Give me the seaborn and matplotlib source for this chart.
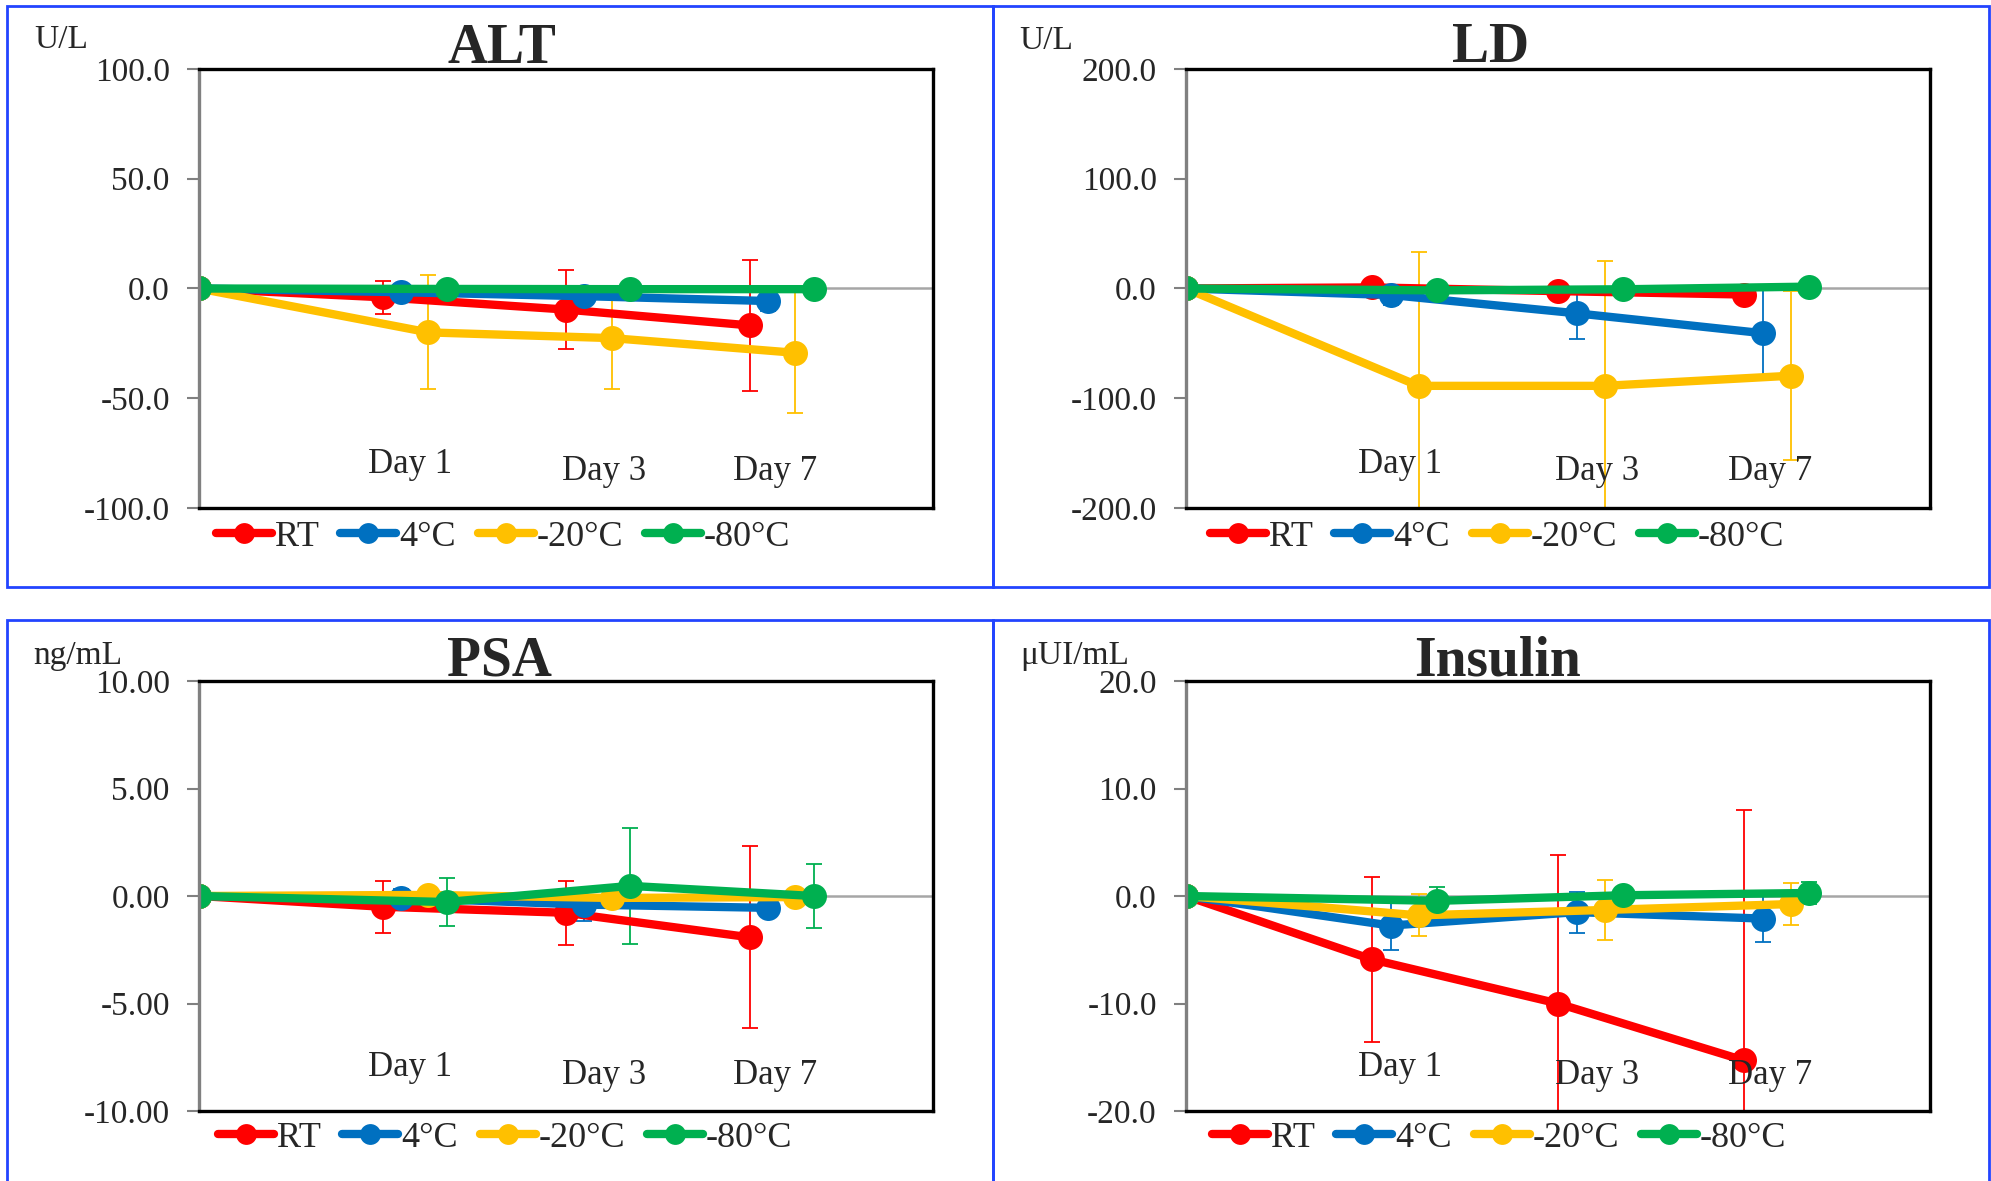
import pandas as pd
import matplotlib.pyplot as plt
import seaborn as sns
from matplotlib.lines import Line2D
from matplotlib.patches import Rectangle
from matplotlib.transforms import blended_transform_factory

sns.set_style("white")
plt.rcParams["font.family"] = ["Liberation Serif", "DejaVu Serif"]
plt.rcParams["axes.unicode_minus"] = False

# categories
days = [0, 1, 2, 3]
day_labels = ["Day 1", "Day 3", "Day 7"]
series_names = ["RT", "4°C", "-20°C", "-80°C"]
colors = ["#FF0000", "#0070C0", "#FFC000", "#00B050"]

# ALT (U/L)
alt_rt = [0, -4.0, -9.6, -16.8]
alt_rt_sd = [0, 7.5, 18.0, 29.9]
alt_4c = [0, -1.7, -3.5, -5.7]
alt_4c_sd = [0, 2.0, 2.0, 4.7]
alt_m20 = [0, -20.0, -22.6, -29.3]
alt_m20_sd = [0, 26.0, 23.2, 27.5]
alt_m80 = [0, -0.2, -0.3, -0.3]
alt_m80_sd = [0, 1.0, 1.0, 1.0]

# LD (U/L)
ld_rt = [0, 1.0, -2.4, -5.5]
ld_rt_sd = [0, 3.0, 3.0, 3.0]
ld_4c = [0, -5.9, -22.6, -40.7]
ld_4c_sd = [0, 8.7, 23.0, 42.8]
ld_m20 = [0, -88.7, -88.7, -79.5]
ld_m20_sd = [0, 122.4, 114.0, 77.0]
ld_m80 = [0, -1.7, -0.7, 1.7]
ld_m80_sd = [0, 2.0, 2.0, 2.0]

# PSA (ng/mL)
psa_rt = [0, -0.50, -0.78, -1.92]
psa_rt_sd = [0, 1.21, 1.50, 4.23]
psa_4c = [0, -0.09, -0.40, -0.55]
psa_4c_sd = [0, 0.40, 0.75, 0.15]
psa_m20 = [0, 0.05, -0.09, -0.05]
psa_m20_sd = [0, 0.15, 0.15, 0.15]
psa_m80 = [0, -0.28, 0.47, 0.0]
psa_m80_sd = [0, 1.12, 2.70, 1.50]

# Insulin (uUI/mL)
ins_rt = [0, -5.9, -10.0, -15.3]
ins_rt_sd = [0, 7.7, 13.8, 23.3]
ins_4c = [0, -2.75, -1.5, -2.1]
ins_4c_sd = [0, 2.25, 1.9, 2.2]
ins_m20 = [0, -1.8, -1.3, -0.75]
ins_m20_sd = [0, 1.95, 2.75, 1.95]
ins_m80 = [0, -0.45, 0.07, 0.28]
ins_m80_sd = [0, 1.25, 0.3, 1.0]

# small x shift per series, like the original chart
offsets = [0.0, 0.1, 0.25, 0.35]

fig = plt.figure(figsize=(19.91, 11.81), dpi=100)
W, H = 1991, 1181


def fx(px):
    return px / W


def fy(py):
    return 1 - py / H


def draw_panel(rect, vals, sds, ticks, fmt, title, unit, title_xy, unit_xy, leg_xy):
    ax = fig.add_axes(rect)
    rows = []
    for name, off, v in zip(series_names, offsets, vals):
        for d, y in zip(days, v):
            rows.append({"x": d + (off if d > 0 else 0), "y": y, "series": name})
    df = pd.DataFrame(rows)

    ax.axhline(0, color="#A6A6A6", lw=1.8, zorder=1)
    for name, col, off, v, s in zip(series_names, colors, offsets, vals, sds):
        xs = [d + (off if d > 0 else 0) for d in days]
        ax.errorbar(xs, v, yerr=s, fmt="none", ecolor=col, elinewidth=1.3,
                    capsize=6, capthick=1.3, zorder=1.8)
    sns.lineplot(data=df, x="x", y="y", hue="series", hue_order=series_names,
                 palette=colors, marker="o", markersize=18, markeredgewidth=0,
                 linewidth=6, legend=False, ax=ax)

    ax.set_xlim(0, 4)
    ax.set_ylim(ticks[0], ticks[-1])
    ax.set_xticks([])
    ax.set_yticks(ticks)
    ax.set_yticklabels([fmt.format(t) for t in ticks])
    ax.set_xlabel("")
    ax.set_ylabel("")
    ax.tick_params(axis="y", left=True, direction="out", length=9, width=1.5,
                   color="#808080", pad=12, labelsize=24)
    for side in ["top", "right", "bottom"]:
        ax.spines[side].set_color("black")
        ax.spines[side].set_linewidth(2.4)
    ax.spines["left"].set_color("#808080")
    ax.spines["left"].set_linewidth(2.4)

    tr = blended_transform_factory(ax.transData, ax.transAxes)
    for lab, xpos, yfrac in zip(day_labels, [1.15, 2.21, 3.14], [0.10, 0.083, 0.083]):
        ax.text(xpos, yfrac, lab, transform=tr, ha="center", va="center", fontsize=25)

    fig.text(fx(title_xy[0]), fy(title_xy[1]), title, ha="center", va="center",
             fontsize=40, fontweight="bold")
    fig.text(fx(unit_xy[0]), fy(unit_xy[1]), unit, ha="left", va="center", fontsize=24)

    handles = [Line2D([0], [0], color=c, lw=6, marker="o", markersize=15,
                      markeredgewidth=0) for c in colors]
    ax.legend(handles, series_names, loc="center left",
              bbox_to_anchor=(fx(leg_xy[0]), fy(leg_xy[1])),
              bbox_transform=fig.transFigure, ncol=4, frameon=False, fontsize=26,
              handlelength=1.55, handletextpad=0.08, columnspacing=0.6,
              borderpad=0, borderaxespad=0)
    return ax


left_l, right_l = 199, 933
left_r, right_r = 1186, 1930
top_t, bot_t = 69, 508
top_b, bot_b = 681, 1111

draw_panel([fx(left_l), fy(bot_t), fx(right_l - left_l), (bot_t - top_t) / H],
           [alt_rt, alt_4c, alt_m20, alt_m80],
           [alt_rt_sd, alt_4c_sd, alt_m20_sd, alt_m80_sd],
           [-100, -50, 0, 50, 100], "{:.1f}", "ALT", "U/L",
           (502, 49), (34, 40), (216, 537))
draw_panel([fx(left_r), fy(bot_t), fx(right_r - left_r), (bot_t - top_t) / H],
           [ld_rt, ld_4c, ld_m20, ld_m80],
           [ld_rt_sd, ld_4c_sd, ld_m20_sd, ld_m80_sd],
           [-200, -100, 0, 100, 200], "{:.1f}", "LD", "U/L",
           (1491, 48), (1019, 41), (1210, 537))
draw_panel([fx(left_l), fy(bot_b), fx(right_l - left_l), (bot_b - top_b) / H],
           [psa_rt, psa_4c, psa_m20, psa_m80],
           [psa_rt_sd, psa_4c_sd, psa_m20_sd, psa_m80_sd],
           [-10, -5, 0, 5, 10], "{:.2f}", "PSA", "ng/mL",
           (499, 661), (33, 656), (218, 1138))
draw_panel([fx(left_r), fy(bot_b), fx(right_r - left_r), (bot_b - top_b) / H],
           [ins_rt, ins_4c, ins_m20, ins_m80],
           [ins_rt_sd, ins_4c_sd, ins_m20_sd, ins_m80_sd],
           [-20, -10, 0, 10, 20], "{:.1f}", "Insulin", "μUI/mL",
           (1498, 661), (1020, 656), (1212, 1138))

# blue panel frames
for x0, y0, x1, y1 in [(7, 6, 993, 587), (993, 6, 1989, 587),
                       (7, 620, 993, 1200), (993, 620, 1989, 1200)]:
    fig.patches.append(Rectangle((fx(x0), fy(y1)), fx(x1 - x0), (y1 - y0) / H,
                                 transform=fig.transFigure, fill=False,
                                 edgecolor="#2244FF", lw=2))

fig.savefig("out.png", dpi=100)
